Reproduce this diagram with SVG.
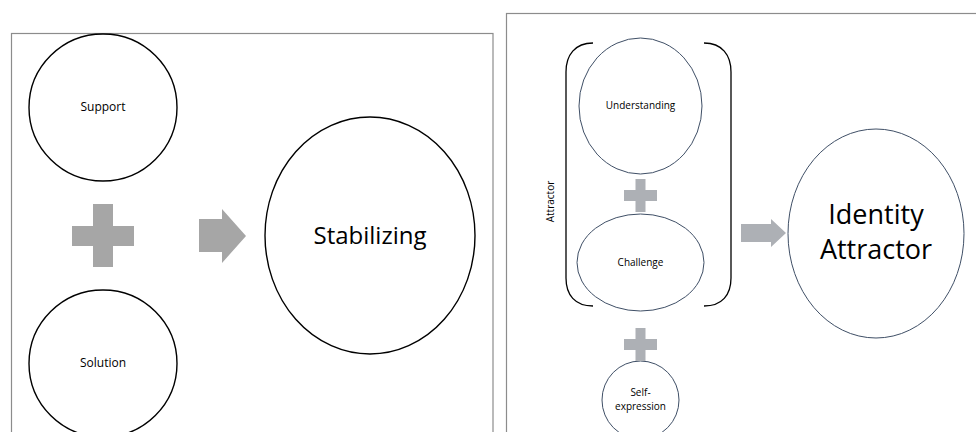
<svg xmlns="http://www.w3.org/2000/svg" width="976" height="432" viewBox="0 0 976 432">
<style>
.panel{fill:#fff;stroke:#8c8c8c;stroke-width:1.2}
.l{fill:#fff;stroke:#000;stroke-width:1.4}
.r{fill:#fff;stroke:#3f4f66;stroke-width:1}
.gl{fill:#a6a6a6}
.gr{fill:#adb0b5}
.brk{fill:none;stroke:#000;stroke-width:1.3}
text{font-family:"Open Sans","Liberation Sans",sans-serif;fill:#000;text-anchor:middle}
.s12{font-size:12px}
.s10{font-size:10px}
</style>
<rect width="976" height="432" fill="#fff"/>
<rect class="panel" x="11.5" y="33.5" width="481.5" height="420"/>
<rect class="panel" x="506.5" y="13.5" width="480" height="440"/>

<g id="support"><ellipse class="l" cx="103" cy="107.5" rx="74" ry="73.5"/><text class="s12" x="103" y="111">Support</text></g>
<g id="solution"><ellipse class="l" cx="103" cy="363.5" rx="74" ry="73.5"/><text class="s12" x="103" y="367">Solution</text></g>
<g id="stabilizing"><ellipse class="l" cx="370" cy="235.5" rx="105" ry="118.5"/><text x="370" y="243.5" font-size="24">Stabilizing</text></g>

<g id="understanding"><ellipse class="r" cx="640.5" cy="106" rx="61.5" ry="68"/><text class="s10" x="640.5" y="109">Understanding</text></g>
<g id="challenge"><ellipse class="r" cx="640.5" cy="262.5" rx="63.5" ry="48.5"/><text class="s10" x="640.5" y="266">Challenge</text></g>
<g id="self-expression"><ellipse class="r" cx="640.5" cy="400" rx="38.5" ry="39"/><text class="s10" x="640.5" y="396">Self-</text><text class="s10" x="640.5" y="409.5">expression</text></g>
<g id="identity-attractor"><ellipse class="r" cx="876" cy="233.5" rx="88" ry="104.5"/><text x="876" y="224" font-size="27">Identity</text><text x="876" y="259" font-size="27">Attractor</text></g>

<g id="attractor-bracket">
<path class="brk" d="M593,43 C575,43 566,55 566,72 L566,278 C566,295 575,306 593,306"/>
<path class="brk" d="M704,43 C722,43 731,55 731,72 L731,278 C731,295 722,306 704,306"/>
<text class="s10" transform="translate(553.5,201.5) rotate(-90)">Attractor</text>
</g>

<g id="connectors">
<path class="gl" d="M93,204 H113 V226 H134 V246 H113 V267 H93 V246 H72 V226 H93 Z"/>
<path class="gl" d="M199,219 H222 V209 L246,236 L222,263 V252 H199 Z"/>
<path class="gr" d="M635.5,179 H645.5 V190 H657 V201 H645.5 V212 H635.5 V201 H624 V190 H635.5 Z"/>
<path class="gr" d="M635.5,328 H645.5 V339 H657 V350 H645.5 V361 H635.5 V350 H624 V339 H635.5 Z"/>
<path class="gr" d="M741,224 H771 V219 L786,233 L771,247 V242 H741 Z"/>
</g>
</svg>
